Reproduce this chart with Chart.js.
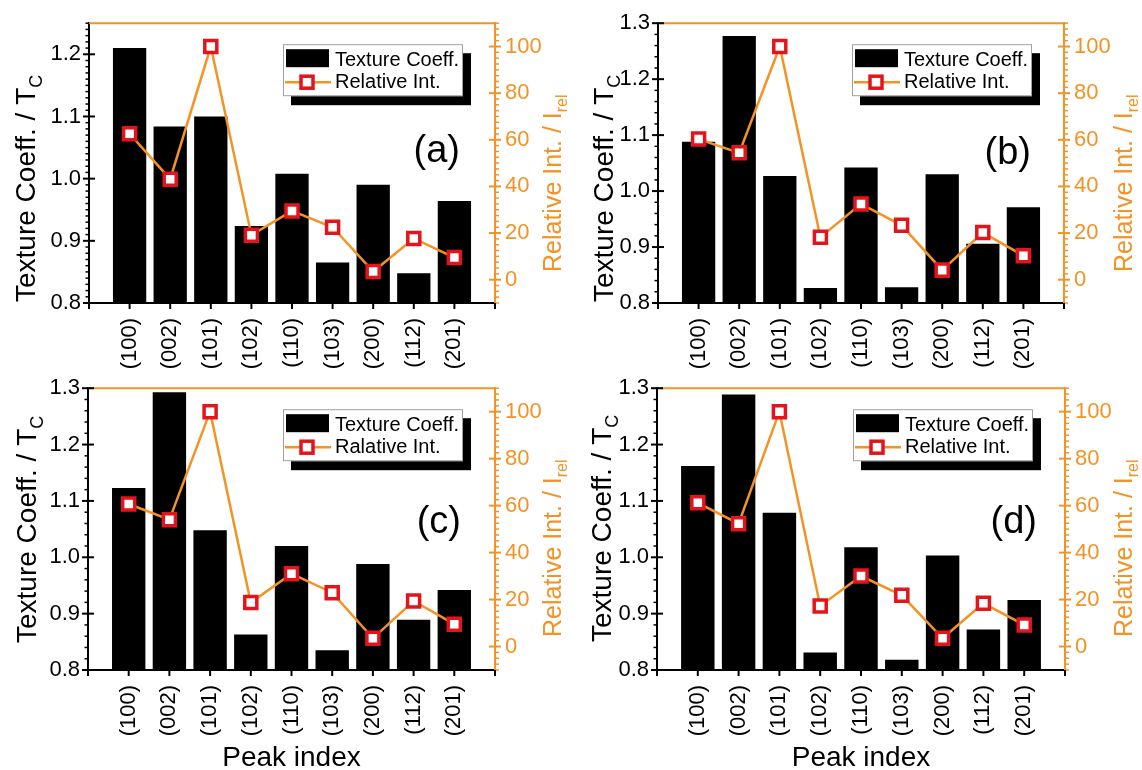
<!DOCTYPE html>
<html>
<head>
<meta charset="utf-8">
<script src="https://cdn.jsdelivr.net/npm/chart.js@4.4.1/dist/chart.umd.min.js"></script>
<style>
  body { margin: 0; background: #fff; width: 1142px; height: 770px; position: relative; overflow: hidden; }
  canvas { position: absolute; }
</style>
</head>
<body>
<canvas id="pa" width="571" height="385" style="left:0;top:0"></canvas>
<canvas id="pb" width="571" height="385" style="left:571px;top:0"></canvas>
<canvas id="pc" width="571" height="405" style="left:0;top:365px"></canvas>
<canvas id="pd" width="571" height="405" style="left:571px;top:365px"></canvas>
<script>
// peak labels on the x axis
const categories = ['(100)', '(002)', '(101)', '(102)', '(110)', '(103)', '(200)', '(112)', '(201)'];

// texture coefficient (bars, left axis)
const textureA = [1.210, 1.084, 1.100, 0.924, 1.008, 0.865, 0.990, 0.848, 0.964];
const textureB = [1.088, 1.277, 1.027, 0.827, 1.042, 0.828, 1.030, 0.906, 0.971];
const textureC = [1.123, 1.293, 1.048, 0.863, 1.020, 0.835, 0.988, 0.889, 0.942];
const textureD = [1.162, 1.289, 1.079, 0.831, 1.018, 0.818, 1.003, 0.872, 0.924];

// relative intensity (line, right axis)
const relIntA = [62.6, 43.1, 100, 19.1, 29.5, 22.5, 3.5, 17.7, 9.5];
const relIntB = [60.3, 54.4, 100, 18.2, 32.5, 23.3, 4.1, 20.2, 10.3];
const relIntC = [60.7, 54.0, 100, 18.7, 31.0, 22.9, 3.5, 19.4, 9.5];
const relIntD = [61.2, 52.3, 100, 17.3, 30.0, 21.8, 3.5, 18.4, 9.2];

// tick labels
const leftTicks = [0.8, 0.9, 1.0, 1.1, 1.2, 1.3];
const rightTicks = [0, 20, 40, 60, 80, 100];

const ORANGE = '#F39325';
const RED = '#E3141B';
const FONT = "'Liberation Sans', Arial, sans-serif";

function rotText(ctx, parts, bx, by, color) {
  ctx.save();
  ctx.translate(bx, by);
  ctx.rotate(-Math.PI / 2);
  ctx.fillStyle = color;
  ctx.textBaseline = 'alphabetic';
  ctx.textAlign = 'left';
  let x = 0;
  for (const [t, size, dy] of parts) {
    ctx.font = size + 'px ' + FONT;
    ctx.fillText(t, x, dy);
    x += ctx.measureText(t).width;
  }
  ctx.restore();
}

function seg(ctx, x1, y1, x2, y2) {
  ctx.beginPath();
  ctx.moveTo(x1, y1);
  ctx.lineTo(x2, y2);
  ctx.stroke();
}

const panelPlugin = {
  id: 'panel',
  afterDraw(chart, args, o) {
    const { ctx, chartArea: a, scales } = chart;
    const y = scales.y, y2 = scales.y2, x = scales.x;
    ctx.save();

    // orange top frame
    ctx.strokeStyle = ORANGE;
    ctx.lineWidth = 2;
    seg(ctx, a.left, a.top, a.right, a.top);

    // left axis ticks
    ctx.strokeStyle = '#000';
    const n = Math.round((y.max - y.min) / o.minor);
    for (let i = 0; i <= n; i++) {
      const v = y.min + i * o.minor;
      const p = y.getPixelForValue(v);
      const major = Math.abs(v * 10 - Math.round(v * 10)) < 1e-6;
      ctx.lineWidth = major ? 2 : 1.5;
      if (major) seg(ctx, a.left - 6, p, a.left + 6, p);
      else seg(ctx, a.left - 3.5, p, a.left, p);
    }

    // right axis ticks
    ctx.strokeStyle = ORANGE;
    for (let v = -10; v <= 110; v += 2.5) {
      const p = y2.getPixelForValue(v);
      const major = v % 20 === 0 && v >= 0 && v <= 100;
      ctx.lineWidth = major ? 2 : 1.5;
      if (major) seg(ctx, a.right - 6, p, a.right + 6, p);
      else seg(ctx, a.right, p, a.right + 4, p);
    }

    // bottom axis ticks
    ctx.strokeStyle = '#000';
    ctx.lineWidth = 2;
    for (let i = 0; i <= 10; i++) {
      const p = x.getPixelForValue(i);
      seg(ctx, p, a.bottom, p, a.bottom + 6);
    }

    // axis titles
    rotText(ctx, [['Texture Coeff. / T', 28, 0], ['C', 18, 7]], o.ltx, o.lty, '#000');
    rotText(ctx, [['Relative Int. / I', 25, 0], ['rel', 16, 6]], o.rtx, o.rty, ORANGE);
    if (o.xTitle) {
      ctx.fillStyle = '#000';
      ctx.font = '28px ' + FONT;
      ctx.textAlign = 'center';
      ctx.textBaseline = 'alphabetic';
      ctx.fillText(o.xTitle, (a.left + a.right) / 2, o.xTitleY);
    }

    // panel letter
    ctx.fillStyle = '#000';
    ctx.font = '38px ' + FONT;
    ctx.textAlign = 'right';
    ctx.textBaseline = 'alphabetic';
    ctx.fillText(o.letter, a.right - o.letterDx, a.top + o.letterDy);

    // legend with drop shadow
    const W = 180, H = 52;
    const L = a.right - 32 - W, T = a.top + 21;
    ctx.fillStyle = '#000';
    ctx.fillRect(L + 8, T + 9, W, H);
    ctx.fillStyle = '#fff';
    ctx.fillRect(L, T, W, H);
    ctx.strokeStyle = '#a0a0a0';
    ctx.lineWidth = 1;
    ctx.strokeRect(L + 0.5, T + 0.5, W - 1, H - 1);
    ctx.fillStyle = '#000';
    ctx.fillRect(L + 3, T + 5, 43, 18);
    ctx.font = '20px ' + FONT;
    ctx.textAlign = 'left';
    ctx.fillText(chart.data.datasets[1].label, L + 52, T + 22);
    ctx.strokeStyle = ORANGE;
    ctx.lineWidth = 2.5;
    seg(ctx, L + 2, T + 38, L + 48, T + 38);
    ctx.fillStyle = '#fff';
    ctx.fillRect(L + 18, T + 32, 12, 12);
    ctx.strokeStyle = RED;
    ctx.lineWidth = 3.5;
    ctx.strokeRect(L + 18, T + 32, 12, 12);
    ctx.fillStyle = '#000';
    ctx.fillText(chart.data.datasets[0].label, L + 52, T + 44);

    ctx.restore();
  }
};

function makePanel(id, tex, rel, lineLabel, cfg) {
  new Chart(document.getElementById(id), {
    type: 'bar',
    data: {
      datasets: [
        {
          type: 'line',
          label: lineLabel,
          data: categories.map((c, i) => ({ x: i + 1, y: rel[i] })),
          yAxisID: 'y2',
          borderColor: ORANGE,
          borderWidth: 2.5,
          pointStyle: 'rect',
          pointRadius: 8.5,
          pointBorderWidth: 3.5,
          pointBorderColor: RED,
          pointBackgroundColor: '#fff',
          order: 0
        },
        {
          type: 'bar',
          label: 'Texture Coeff.',
          data: categories.map((c, i) => ({ x: i + 1, y: tex[i] })),
          yAxisID: 'y',
          backgroundColor: '#000',
          categoryPercentage: 1,
          barPercentage: 0.82,
          order: 1
        }
      ]
    },
    options: {
      responsive: false,
      animation: false,
      events: [],
      layout: { padding: { top: cfg.padTop, left: 0, right: 0, bottom: 0 } },
      plugins: {
        legend: { display: false },
        tooltip: { enabled: false },
        panel: cfg
      },
      scales: {
        x: {
          type: 'linear',
          offset: false,
          min: 0,
          max: 10,
          grid: { display: false, drawTicks: false },
          border: { color: '#000', width: 2, z: 1 },
          ticks: {
            autoSkip: false,
            minRotation: 90,
            maxRotation: 90,
            padding: 15,
            color: '#000',
            font: { family: FONT, size: 22 },
            callback: v => categories[v - 1] || ''
          },
          afterBuildTicks: s => { s.ticks = [0].concat(categories.map((c, i) => i + 1), [10]).map(v => ({ value: v })); },
          afterFit: s => { s.height = cfg.xH; }
        },
        y: {
          position: 'left',
          min: 0.8,
          max: cfg.yMax,
          grid: { display: false, drawTicks: false },
          border: { color: '#000', width: 2, z: 1 },
          ticks: {
            autoSkip: false,
            padding: 8,
            color: '#000',
            font: { family: FONT, size: 22 },
            callback: v => v.toFixed(1)
          },
          afterBuildTicks: s => { s.ticks = leftTicks.filter(v => v <= cfg.yMax + 1e-9).map(v => ({ value: v })); },
          afterFit: s => { s.width = cfg.yW; }
        },
        y2: {
          position: 'right',
          min: -10,
          max: 110,
          grid: { display: false, drawTicks: false },
          border: { color: ORANGE, width: 2, z: 1 },
          ticks: {
            autoSkip: false,
            padding: 10,
            color: ORANGE,
            font: { family: FONT, size: 22 },
            callback: v => String(v)
          },
          afterBuildTicks: s => { s.ticks = rightTicks.map(v => ({ value: v })); },
          afterFit: s => { s.width = cfg.y2W; }
        }
      }
    },
    plugins: [panelPlugin]
  });
}

makePanel('pa', textureA, relIntA, 'Relative Int.', {
  yMax: 1.25, minor: 0.01, padTop: 23, xH: 82, yW: 89, y2W: 76,
  letter: '(a)', letterDx: 35, letterDy: 139,
  ltx: 35, lty: 302, rtx: 561, rty: 272
});
makePanel('pb', textureB, relIntB, 'Relative Int.', {
  yMax: 1.3, minor: 0.02, padTop: 23, xH: 82, yW: 87, y2W: 78,
  letter: '(b)', letterDx: 33, letterDy: 141,
  ltx: 42, lty: 302, rtx: 561, rty: 272
});
makePanel('pc', textureC, relIntC, 'Ralative Int.', {
  yMax: 1.3, minor: 0.02, padTop: 21, xH: 100, yW: 88, y2W: 76,
  letter: '(c)', letterDx: 34, letterDy: 145,
  ltx: 36, lty: 278, rtx: 561, rty: 272,
  xTitle: 'Peak index', xTitleY: 401
});
makePanel('pd', textureD, relIntD, 'Relative Int.', {
  yMax: 1.3, minor: 0.02, padTop: 21, xH: 100, yW: 86, y2W: 77,
  letter: '(d)', letterDx: 28, letterDy: 145,
  ltx: 40, lty: 277, rtx: 561, rty: 272,
  xTitle: 'Peak index', xTitleY: 401
});
</script>
</body>
</html>
